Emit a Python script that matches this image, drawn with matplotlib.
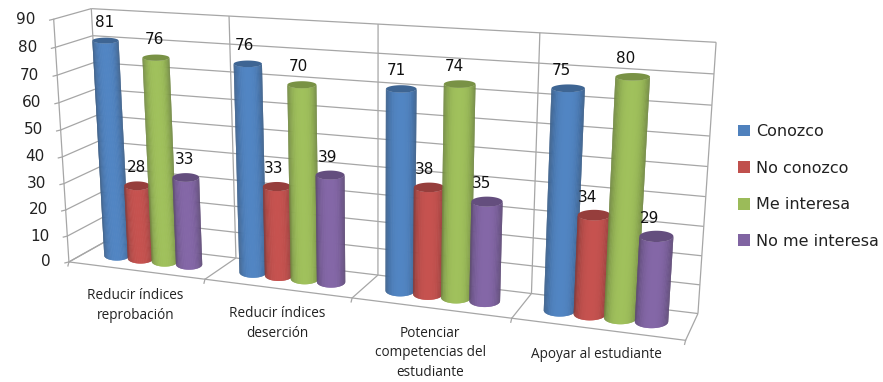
import numpy as np
import matplotlib
matplotlib.use('Agg')
import matplotlib.pyplot as plt
from matplotlib.collections import PolyCollection
from matplotlib.patches import Patch

categorias = ['Reducir índices\nreprobación', 'Reducir índices\ndeserción',
              'Potenciar\ncompetencias del\nestudiante', 'Apoyar al estudiante']
series = ['Conozco', 'No conozco', 'Me interesa', 'No me interesa']
conozco = [81, 76, 71, 75]
no_conozco = [28, 33, 38, 34]
me_interesa = [76, 70, 74, 80]
no_me_interesa = [33, 39, 35, 29]
colores = ['#4F81BD', '#C0504D', '#9BBB59', '#8064A2']
ticks_y = list(range(0, 100, 10))

ANCHO_BARRA = 0.18
MARGEN = 0.14
RADIO_LADO = 0.096
RADIO_FONDO = 0.25
COLOR_REJILLA = '#A6A6A6'

# Esquinas de la caja 3D: (categoria, fondo, valor) -> pixel
caja = [
    (0, 0, 0, 70, 261), (1, 0, 0, 205, 279), (2, 0, 0, 352, 298), (3, 0, 0, 511, 319), (4, 0, 0, 686, 341),
    (0, 1, 0, 103, 243), (2, 1, 0, 378, 275), (3, 1, 0, 533, 293), (4, 1, 0, 697, 313),
    (0, 0, 90, 53, 19), (0, 1, 90, 92, 9), (1, 1, 90, 229, 16), (2, 1, 90, 378, 24),
    (3, 1, 90, 540, 33), (4, 1, 90, 716, 42),
]


def ajustar_camara(puntos):
    A, b = [], []
    for u, d, v, x, y in puntos:
        A.append([u, d, v, 1, 0, 0, 0, 0, -x * u, -x * d, -x * v])
        A.append([0, 0, 0, 0, u, d, v, 1, -y * u, -y * d, -y * v])
        b += [x, y]
    m = np.linalg.lstsq(np.array(A, float), np.array(b, float), rcond=None)[0]
    return np.append(m, 1).reshape(3, 4)


P = ajustar_camara(caja)


def proyectar(u, d, v):
    u, d, v = np.broadcast_arrays(np.asarray(u, float), np.asarray(d, float), np.asarray(v, float))
    h = P @ np.stack([u.ravel(), d.ravel(), v.ravel(), np.ones(u.size)])
    return (h[0] / h[2]).reshape(u.shape), (h[1] / h[2]).reshape(u.shape)


def linea(ax, a, b, color=COLOR_REJILLA):
    x, y = proyectar([a[0], b[0]], [a[1], b[1]], [a[2], b[2]])
    ax.plot(x, y, color=color, lw=0.9, solid_capstyle='butt', zorder=1)


def elipse_en(uc, v):
    # centro y semiejes de la seccion del cilindro a la altura v, sin inclinar
    cx, cy = proyectar(uc, 0.5, v)
    xa, _ = proyectar(uc - RADIO_LADO, 0.5, v)
    xb, _ = proyectar(uc + RADIO_LADO, 0.5, v)
    _, ya = proyectar(uc, 0.5 - RADIO_FONDO, v)
    _, yb = proyectar(uc, 0.5 + RADIO_FONDO, v)
    return float(cx), float(cy), abs(float(xb - xa)) / 2, abs(float(ya - yb)) / 2


def cilindro(ax, cat, i, valor, color):
    uc = cat + MARGEN + ANCHO_BARRA * (i + 0.5)
    cxb, cyb, wb, hb = elipse_en(uc, 0)
    cxt, cyt, wt, ht = elipse_en(uc, valor)
    base = np.array(matplotlib.colors.to_rgb(color))
    ang = np.linspace(np.pi, 0, 61)
    c, s = np.cos(ang), np.sin(ang)
    xb, yb = cxb + wb * c, cyb + hb * s
    xt, yt = cxt + wt * c, cyt + ht * s
    polys, cols = [], []
    # cada tira solapa la siguiente para que no se vean costuras
    for k in range(len(ang) - 1):
        j = min(k + 2, len(ang) - 1)
        polys.append([(xb[k], yb[k]), (xb[j], yb[j]), (xt[j], yt[j]), (xt[k], yt[k])])
        t = abs(c[k] + c[k + 1]) / 2
        cols.append(base * (1.03 - 0.32 * t ** 3))
    ax.add_collection(PolyCollection(polys, facecolors=np.clip(cols, 0, 1), edgecolors='none', zorder=3 + i * 0.1))
    # tapa superior
    ang2 = np.linspace(0, 2 * np.pi, 60)
    ax.fill(cxt + wt * np.cos(ang2), cyt + ht * np.sin(ang2), color=base * 0.78, lw=0, zorder=3.02 + i * 0.1)
    return uc


fig = plt.figure(figsize=(8.83, 3.82), dpi=100)
ax = fig.add_axes([0, 0, 1, 1])
ax.set_xlim(0, 883)
ax.set_ylim(382, 0)
ax.axis('off')

n = len(categorias)
# Rejilla de las paredes
for v in ticks_y:
    linea(ax, (0, 1, v), (n, 1, v))
    linea(ax, (0, 0, v), (0, 1, v))
    x0, y0 = proyectar(0, 0, v)
    ax.plot([x0 - 4, x0], [y0 + 1, y0], color=COLOR_REJILLA, lw=0.9, zorder=1)
    ax.text(x0 - 18, y0, str(v), ha='right', va='center', fontsize=11, family='DejaVu Sans', color='#222222')
linea(ax, (0, 0, 0), (0, 0, 90))
for c in range(n + 1):
    linea(ax, (c, 1, 0), (c, 1, 90))
    linea(ax, (c, 0, 0), (c, 1, 0))
    x0, y0 = proyectar(c, 0, 0)
    ax.plot([x0, x0 - 1], [y0, y0 + 4], color=COLOR_REJILLA, lw=0.9, zorder=1)
linea(ax, (0, 0, 0), (n, 0, 0))

# Barras
valores = [conozco, no_conozco, me_interesa, no_me_interesa]
for i, (vals, color) in enumerate(zip(valores, colores)):
    for c, val in enumerate(vals):
        uc = cilindro(ax, c, i, val, color)
        x, y = proyectar(uc, 0.5, val)
        ax.text(x - 1 - 2 * c, y - 18, str(val), ha='center', va='center', fontsize=11,
                family='DejaVu Sans', color='#111111', zorder=6)

# Etiquetas de categoria bajo el borde frontal
for c, nombre in enumerate(categorias):
    x, y = proyectar(c + 0.5, 0, 0)
    ax.text(x, y + 18, nombre, ha='center', va='top', fontsize=9.8, family='Open Sans',
            color='#222222', linespacing=1.4)

handles = [Patch(facecolor=col, edgecolor='none', label=nom) for col, nom in zip(colores, series)]
ax.legend(handles=handles, loc='center left', bbox_to_anchor=(738, 186.5), bbox_transform=ax.transData,
          frameon=False, handlelength=0.75, handleheight=0.75, handletextpad=0.375, labelspacing=1.35,
          borderpad=0, borderaxespad=0, prop={'family': 'DejaVu Sans', 'size': 11.5}, labelcolor='#222222')

fig.savefig('out.png', dpi=100)
